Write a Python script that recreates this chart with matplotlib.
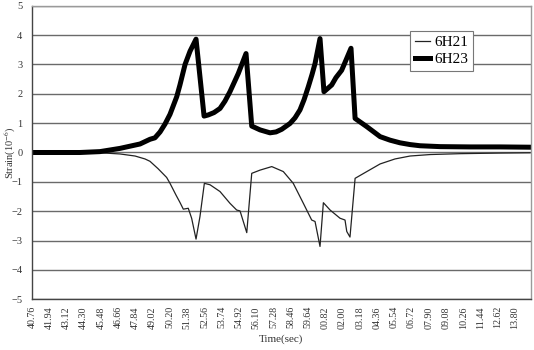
import matplotlib
matplotlib.use("Agg")
import matplotlib.pyplot as plt

plt.rcParams['font.family'] = ['Liberation Serif', 'DejaVu Serif']
plt.rcParams['mathtext.fontset'] = 'stix'

# time offsets (s) from 40.76 s
t_6h23 = [0.0, 1.92, 3.28, 4.65, 6.02, 7.39, 8.07, 8.41, 8.76, 9.10, 9.44, 9.90,
          10.12, 10.47, 10.81, 11.22, 11.77, 12.06, 12.45, 12.86, 13.20, 13.54,
          14.11, 14.64, 15.03, 15.60, 16.28, 16.69, 17.08, 17.65, 17.99, 18.33,
          18.61, 18.90, 19.15, 19.36, 19.70, 19.97, 20.50, 20.79, 21.18, 21.48,
          21.82, 22.10, 22.90, 23.81, 24.49, 25.17, 25.86, 26.54, 27.91, 29.96,
          32.01, 34.07]
v_6h23 = [0.0, 0.0, 0.0, 0.03, 0.14, 0.29, 0.45, 0.5, 0.7, 0.97, 1.3, 1.9,
          2.3, 3.0, 3.45, 3.86, 1.24, 1.28, 1.36, 1.5, 1.75, 2.07,
          2.69, 3.37, 0.9, 0.77, 0.67, 0.7, 0.79, 0.99, 1.18, 1.45,
          1.8, 2.24, 2.65, 3.03, 3.88, 2.07, 2.3, 2.55, 2.8, 3.15,
          3.55, 1.16, 0.88, 0.54, 0.42, 0.33, 0.27, 0.23, 0.2, 0.19,
          0.19, 0.18]

t_6h21 = [0.0, 3.28, 4.65, 6.02, 7.05, 7.73, 8.07, 8.62, 9.21, 9.44, 9.85,
          10.12, 10.35, 10.69, 10.92, 11.22, 11.49, 11.79, 12.18, 12.86, 13.54,
          14.00, 14.23, 14.69, 15.03, 15.60, 16.40, 17.19, 17.87, 18.56, 19.13,
          19.36, 19.70, 19.93, 20.39, 21.07, 21.41, 21.53, 21.75, 22.10, 22.90,
          23.81, 24.83, 25.86, 27.23, 29.28, 32.01, 34.07]
v_6h21 = [0.0, 0.0, -0.01, -0.05, -0.12, -0.22, -0.3, -0.55, -0.85, -1.05, -1.45,
          -1.7, -1.93, -1.9, -2.24, -2.95, -2.18, -1.05, -1.1, -1.33, -1.73,
          -1.96, -1.99, -2.73, -0.71, -0.6, -0.48, -0.65, -1.05, -1.73, -2.3,
          -2.35, -3.2, -1.71, -1.96, -2.24, -2.3, -2.69, -2.88, -0.88, -0.65,
          -0.39, -0.22, -0.12, -0.07, -0.04, -0.02, -0.01]

tick_labels = ['40.76', '41.94', '43.12', '44.30', '45.48', '46.66', '47.84',
               '49.02', '50.20', '51.38', '52.56', '53.74', '54.92', '56.10',
               '57.28', '58.46', '59.64', '00.82', '02.00', '03.18', '04.36',
               '05.54', '06.72', '07.90', '09.08', '10.26', '11.44', '12.62',
               '13.80']
tick_step = 1.18

fig = plt.figure(figsize=(5.34, 3.5), dpi=100)
ax = fig.add_axes([0.0599, 0.1449, 0.9339, 0.8388])

ax.set_ylim(-5, 5)
ax.set_xlim(0, 34.11)
ax.set_yticks(range(-5, 6))
ax.set_xticks([i * tick_step for i in range(len(tick_labels))])
ax.set_xticklabels(tick_labels, rotation=90)
ax.tick_params(axis='both', length=0, labelsize=7.5, colors='#333333')
ax.tick_params(axis='x', pad=5, labelsize=7.2)
ax.tick_params(axis='y', pad=7)

ax.yaxis.grid(True, color='#6a6a6a', linewidth=1.0)
ax.set_axisbelow(True)

for s in ['top', 'right']:
    ax.spines[s].set_color('#9a9a9a')
    ax.spines[s].set_linewidth(1.0)
ax.spines['left'].set_color('#444444')
ax.spines['bottom'].set_color('#444444')
ax.spines['left'].set_linewidth(1.0)
ax.spines['bottom'].set_linewidth(1.0)

ax.plot(t_6h21, v_6h21, color='#222222', linewidth=0.9, label='6H21')
ax.plot(t_6h23, v_6h23, color='black', linewidth=3.6, label='6H23',
        solid_joinstyle='round')

ax.set_xlabel('Time(sec)', fontsize=8, labelpad=4, color='#333333')
ax.set_ylabel('Strain(10$^{-6}$)', fontsize=7.5, color='#333333')
ax.yaxis.set_label_coords(-0.029, 0.5)

leg = ax.legend(loc='upper left', bbox_to_anchor=(0.758, 0.915), fontsize=11,
                handlelength=1.0, handletextpad=0.3, borderpad=0.3,
                labelspacing=0.25, fancybox=False, framealpha=1,
                edgecolor='#777777', borderaxespad=0)
leg.get_frame().set_linewidth(0.8)

fig.savefig('out.png', dpi=100)
